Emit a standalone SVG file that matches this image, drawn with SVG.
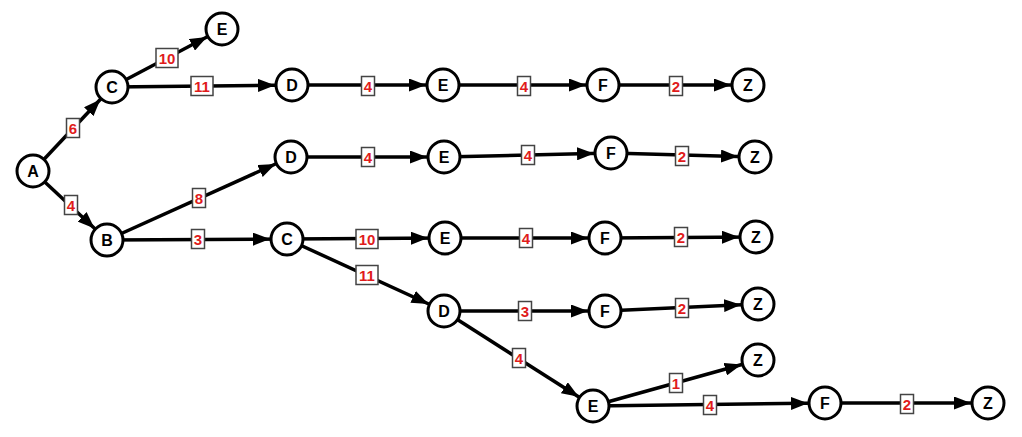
<svg xmlns="http://www.w3.org/2000/svg" width="1022" height="437" viewBox="0 0 1022 437">
<style>
.e{stroke:#000;stroke-width:3.5;fill:none;marker-end:url(#ah)}
.n circle{fill:#fff;stroke:#000;stroke-width:3}
.n text{font-family:"Liberation Sans",Arial,sans-serif;font-weight:bold;font-size:16px;fill:#000;text-anchor:middle;dominant-baseline:central}
.lb rect{fill:#fff;stroke:#444;stroke-width:1.5}
.lb text{font-family:"Liberation Sans",Arial,sans-serif;font-weight:bold;font-size:15px;fill:#e01b1b;text-anchor:middle;dominant-baseline:central}
</style>
<defs>
<marker id="ah" markerUnits="userSpaceOnUse" markerWidth="17" markerHeight="13" refX="34" refY="6.5" orient="auto">
<path d="M0,0 L17,6.5 L0,13 z" fill="#000"/>
</marker>
</defs>
<rect width="1022" height="437" fill="#fff"/>
<g id="connectors">
<line class="e" x1="33" y1="171" x2="112" y2="87"/>
<line class="e" x1="33" y1="171" x2="107" y2="240"/>
<line class="e" x1="112" y1="87" x2="222" y2="29"/>
<line class="e" x1="112" y1="87" x2="292" y2="85"/>
<line class="e" x1="292" y1="85" x2="443" y2="85"/>
<line class="e" x1="443" y1="85" x2="603" y2="85"/>
<line class="e" x1="603" y1="85" x2="748" y2="85"/>
<line class="e" x1="107" y1="240" x2="291" y2="157"/>
<line class="e" x1="291" y1="157" x2="444" y2="157"/>
<line class="e" x1="444" y1="157" x2="611" y2="153"/>
<line class="e" x1="611" y1="153" x2="755" y2="157"/>
<line class="e" x1="107" y1="240" x2="287" y2="239"/>
<line class="e" x1="287" y1="239" x2="445" y2="238"/>
<line class="e" x1="445" y1="238" x2="605" y2="238"/>
<line class="e" x1="605" y1="238" x2="756" y2="237"/>
<line class="e" x1="287" y1="239" x2="444" y2="311"/>
<line class="e" x1="444" y1="311" x2="605" y2="311"/>
<line class="e" x1="605" y1="311" x2="758" y2="304"/>
<line class="e" x1="444" y1="311" x2="593" y2="406"/>
<line class="e" x1="593" y1="406" x2="758" y2="360"/>
<line class="e" x1="593" y1="406" x2="825" y2="403"/>
<line class="e" x1="825" y1="403" x2="988" y2="403"/>
<g class="lb">
<rect x="66.5" y="118.5" width="13" height="19"/><text x="73" y="128">6</text>
<rect x="64.5" y="195.5" width="13" height="19"/><text x="71" y="205">4</text>
<rect x="156" y="48.5" width="22" height="19"/><text x="167" y="58">10</text>
<rect x="191" y="76.5" width="22" height="19"/><text x="202" y="86">11</text>
<rect x="361.5" y="76.5" width="13" height="19"/><text x="368" y="86">4</text>
<rect x="517.5" y="76.5" width="13" height="19"/><text x="524" y="86">4</text>
<rect x="669.5" y="76.5" width="13" height="19"/><text x="676" y="86">2</text>
<rect x="192.5" y="188.5" width="13" height="19"/><text x="199" y="198">8</text>
<rect x="361.5" y="147.5" width="13" height="19"/><text x="368" y="157">4</text>
<rect x="521.5" y="145.5" width="13" height="19"/><text x="528" y="155">4</text>
<rect x="675.5" y="146.5" width="13" height="19"/><text x="682" y="156">2</text>
<rect x="191.5" y="229.5" width="13" height="19"/><text x="198" y="239">3</text>
<rect x="356" y="229.5" width="22" height="19"/><text x="367" y="239">10</text>
<rect x="519.5" y="228.5" width="13" height="19"/><text x="526" y="238">4</text>
<rect x="674.5" y="227.5" width="13" height="19"/><text x="681" y="237">2</text>
<rect x="356" y="265.5" width="22" height="19"/><text x="367" y="275">11</text>
<rect x="518.5" y="301.5" width="13" height="19"/><text x="525" y="311">3</text>
<rect x="512.5" y="348.5" width="13" height="19"/><text x="519" y="358">4</text>
<rect x="675.5" y="298.5" width="13" height="19"/><text x="682" y="308">2</text>
<rect x="669.5" y="373.5" width="13" height="19"/><text x="676" y="383">1</text>
<rect x="703.5" y="395.5" width="13" height="19"/><text x="710" y="405">4</text>
<rect x="900.5" y="394.5" width="13" height="19"/><text x="907" y="404">2</text>
</g>
</g>
<g id="nodes" class="n">
<g id="A"><circle cx="33" cy="171" r="16"/><text x="33" y="171">A</text></g>
<g id="C1"><circle cx="112" cy="87" r="16"/><text x="112" y="87">C</text></g>
<g id="E1"><circle cx="222" cy="29" r="16"/><text x="222" y="29">E</text></g>
<g id="D1"><circle cx="292" cy="85" r="16"/><text x="292" y="85">D</text></g>
<g id="E2"><circle cx="443" cy="85" r="16"/><text x="443" y="85">E</text></g>
<g id="F1"><circle cx="603" cy="85" r="16"/><text x="603" y="85">F</text></g>
<g id="Z1"><circle cx="748" cy="85" r="16"/><text x="748" y="85">Z</text></g>
<g id="B"><circle cx="107" cy="240" r="16"/><text x="107" y="240">B</text></g>
<g id="D2"><circle cx="291" cy="157" r="16"/><text x="291" y="157">D</text></g>
<g id="E3"><circle cx="444" cy="157" r="16"/><text x="444" y="157">E</text></g>
<g id="F2"><circle cx="611" cy="153" r="16"/><text x="611" y="153">F</text></g>
<g id="Z2"><circle cx="755" cy="157" r="16"/><text x="755" y="157">Z</text></g>
<g id="C2"><circle cx="287" cy="239" r="16"/><text x="287" y="239">C</text></g>
<g id="E4"><circle cx="445" cy="238" r="16"/><text x="445" y="238">E</text></g>
<g id="F3"><circle cx="605" cy="238" r="16"/><text x="605" y="238">F</text></g>
<g id="Z3"><circle cx="756" cy="237" r="16"/><text x="756" y="237">Z</text></g>
<g id="D3"><circle cx="444" cy="311" r="16"/><text x="444" y="311">D</text></g>
<g id="F4"><circle cx="605" cy="311" r="16"/><text x="605" y="311">F</text></g>
<g id="Z4"><circle cx="758" cy="304" r="16"/><text x="758" y="304">Z</text></g>
<g id="E5"><circle cx="593" cy="406" r="16"/><text x="593" y="406">E</text></g>
<g id="Z5"><circle cx="758" cy="360" r="16"/><text x="758" y="360">Z</text></g>
<g id="F5"><circle cx="825" cy="403" r="16"/><text x="825" y="403">F</text></g>
<g id="Z6"><circle cx="988" cy="403" r="16"/><text x="988" y="403">Z</text></g>
</g>
</svg>
